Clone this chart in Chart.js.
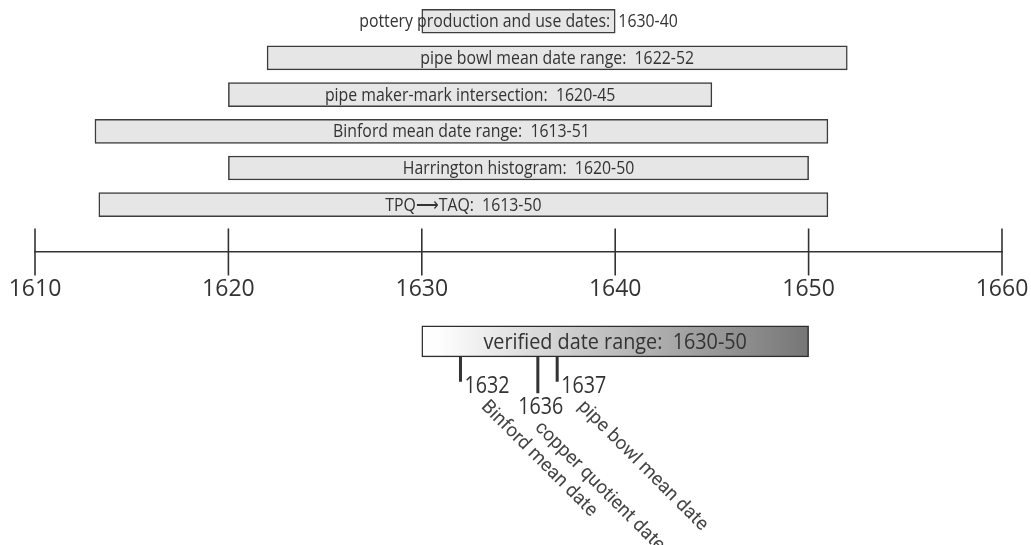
<!DOCTYPE html>
<html>
<head>
<meta charset="utf-8">
<script src="https://cdn.jsdelivr.net/npm/chart.js@4.4.1/dist/chart.umd.min.js"></script>
<style>
  html, body { margin: 0; padding: 0; background: #fff; }
  #wrap { width: 1031px; height: 545px; }
</style>
</head>
<body>
<div id="wrap"><canvas id="timeline" width="1031" height="545"></canvas></div>
<script>
/* Date-range timeline: floating bars on a shared year axis,
   verified range + point estimates underneath. */

const SANS = "'Open Sans', Roboto, sans-serif";
const ROUND = "Roboto, 'Open Sans', sans-serif";
const INK = "#333";

// ---- data ----
const barLabels = [
  "pottery production and use dates:  1630-40",
  "pipe bowl mean date range:  1622-52",
  "pipe maker-mark intersection:  1620-45",
  "Binford mean date range:  1613-51",
  "Harrington histogram:  1620-50",
  "TPQ\u27F6TAQ:  1613-50",
];
const barStart = [1630, 1622, 1620, 1613.1, 1620, 1613.3];
const barEnd = [1640, 1652, 1645, 1651, 1650, 1651];

const tickYears = [1610, 1620, 1630, 1640, 1650, 1660];

const verifiedLabel = "verified date range:  1630-50";
const verifiedRange = [1630, 1650];

const markerYears = [1632, 1636, 1637];
const markerNames = ["Binford mean date", "copper quotient date", "pipe bowl mean date"];

// ---- layout (row units on a hidden y axis, row 0 = top bar) ----
const markerPlacement = ["right", "below", "right"];
const ROW_AXIS = 6.29;
const ROW_VERIFIED = 8.73;
const VERIFIED_HALF = 0.41;
const MARK_LEN = { right: 0.69, below: 1.0 };

function verifiedFill(ctx) {
  const chart = ctx.chart;
  if (!chart.chartArea) return "#ccc";
  const xs = chart.scales.x;
  const g = chart.ctx.createLinearGradient(xs.getPixelForValue(verifiedRange[0]), 0, xs.getPixelForValue(verifiedRange[1]), 0);
  g.addColorStop(0, "#ffffff");
  g.addColorStop(0.05, "#fdfdfd");
  g.addColorStop(1, "#767676");
  return g;
}

const markerSets = markerYears.map((yr, i) => ({
  type: "line",
  data: [
    { x: yr, y: ROW_VERIFIED + VERIFIED_HALF },
    { x: yr, y: ROW_VERIFIED + VERIFIED_HALF + MARK_LEN[markerPlacement[i]] },
  ],
  borderColor: INK, borderWidth: 3, pointRadius: 0, borderCapStyle: "butt",
}));

// condensed text: the original uses a narrow face, so squeeze horizontally
function narrowText(c, text, x, y, sx, align) {
  c.save();
  c.translate(x, y);
  c.scale(sx, 1);
  c.textAlign = align;
  c.fillText(text, 0, 0);
  c.restore();
}

/* ---- text on top of the marks ---- */
const labelPlugin = {
  id: "labels",
  afterDatasetsDraw(chart) {
    const c = chart.ctx;
    const xs = chart.scales.x, ys = chart.scales.y;
    c.save();
    c.fillStyle = INK;
    c.textBaseline = "middle";

    // range bar labels
    c.font = "18px " + SANS;
    chart.getDatasetMeta(0).data.forEach((el, i) => {
      narrowText(c, barLabels[i], (el.x + el.base) / 2, el.y + 1, 0.88, "center");
    });

    // verified bar label
    c.font = "22px " + SANS;
    const v = chart.getDatasetMeta(1).data[0];
    narrowText(c, verifiedLabel, (v.x + v.base) / 2, v.y + 1, 0.9, "center");

    // point estimates
    c.textBaseline = "alphabetic";
    markerYears.forEach((yr, i) => {
      const px = xs.getPixelForValue(yr);
      const place = markerPlacement[i];
      const endY = ys.getPixelForValue(ROW_VERIFIED + VERIFIED_HALF + MARK_LEN[place]);
      c.font = "24px " + SANS;
      const w = c.measureText(String(yr)).width * 0.82;
      let left, base;
      if (place === "right") {
        left = px + 4; base = endY + 11.5;
      } else {
        left = px + 3 - w / 2; base = endY + 21;
      }
      narrowText(c, String(yr), left, base, 0.82, "left");
      c.save();
      c.translate(left + 16, base + 14);
      c.rotate(Math.PI / 4);
      c.textAlign = "left";
      c.fillStyle = "#444";
      c.font = "19px " + ROUND;
      c.fillText(markerNames[i], 0, 0);
      c.restore();
    });
    c.restore();
  },
};

new Chart(document.getElementById("timeline"), {
  type: "bar",
  data: {
    datasets: [
      {
        indexAxis: "y", grouped: false,
        data: barLabels.map((_, i) => ({ y: i, x: [barStart[i], barEnd[i]] })),
        backgroundColor: "#e6e6e6", borderColor: "#3c3c3c", borderWidth: 1.5,
        borderSkipped: false, barThickness: 24,
      },
      {
        indexAxis: "y", grouped: false,
        data: [{ y: ROW_VERIFIED, x: verifiedRange }],
        backgroundColor: verifiedFill, borderColor: "#2e2e2e", borderWidth: 1.5,
        borderSkipped: false, barThickness: 31,
      },
      {
        type: "scatter",
        data: tickYears.map((yr) => ({ x: yr, y: ROW_AXIS })),
        pointStyle: "line", rotation: 90, pointRadius: 23.5,
        borderColor: INK, pointBorderWidth: 1.6, clip: false,
      },
      ...markerSets,
    ],
  },
  options: {
    responsive: false, animation: false, events: [],
    layout: { autoPadding: false, padding: { left: 35, right: 29, top: 0, bottom: 0 } },
    plugins: { legend: { display: false }, tooltip: { enabled: false } },
    scales: {
      x: {
        type: "linear", min: 1610, max: 1660, offset: false,
        position: { y: ROW_AXIS },
        afterBuildTicks: (s) => { s.ticks = tickYears.map((v) => ({ value: v })); },
        afterFit: (s) => { s.paddingLeft = 0; s.paddingRight = 0; },
        ticks: { color: INK, font: { family: SANS, size: 23 }, padding: 24, maxRotation: 0, callback: (v) => String(v) },
        grid: { display: true, drawOnChartArea: false, drawTicks: false, offset: false },
        border: { display: true, color: INK, width: 1.5 },
      },
      y: { type: "linear", reverse: true, min: -0.58, max: 14.28, offset: false, display: false },
    },
  },
  plugins: [labelPlugin],
});
</script>
</body>
</html>
